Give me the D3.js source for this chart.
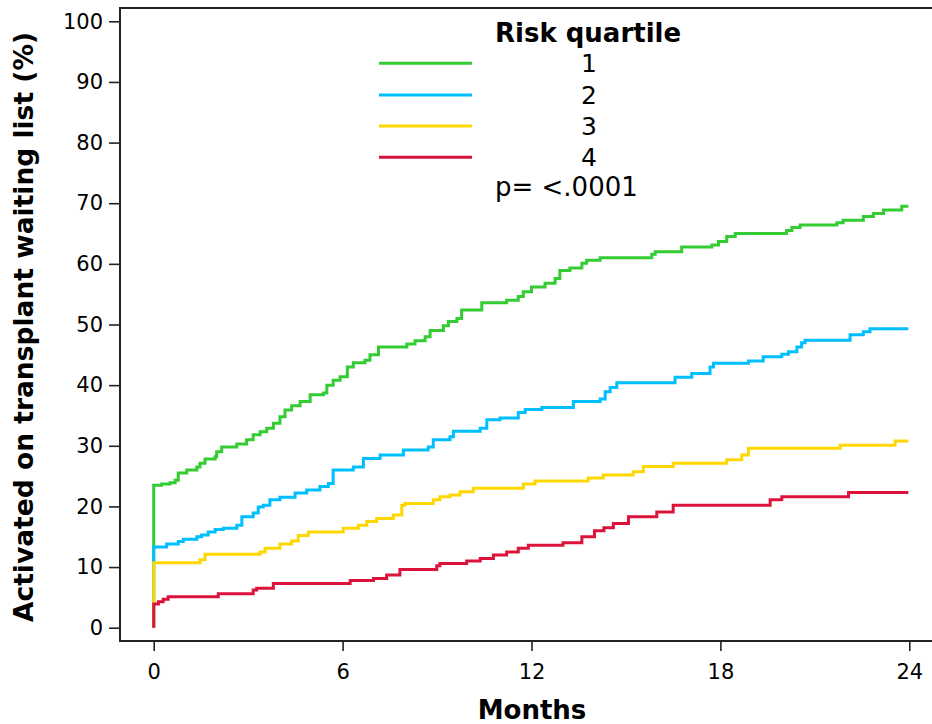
<!DOCTYPE html>
<meta charset="utf-8">
<script src="https://d3js.org/d3.v7.min.js"></script>
<style>
  body { margin: 0; background: #fff; }
  text { font-family: "DejaVu Sans", sans-serif; fill: #000; }
</style>
<div id="chart"></div>
<script>

// cumulative activation (%) by month
const q1Months = [0, 0, 0.25, 0.52, 0.68, 0.78, 1.05, 1.37, 1.47, 1.63, 1.95, 2.0, 2.16, 2.64, 2.95, 3.16, 3.38, 3.59, 3.8, 4.01, 4.17, 4.38, 4.65, 4.97, 5.39, 5.5, 5.7, 5.92, 6.15, 6.34, 6.71, 6.87, 7.14, 8.04, 8.30, 8.62, 8.78, 9.2, 9.36, 9.63, 9.78, 10.42, 11.21, 11.58, 11.74, 12.0, 12.43, 12.75, 12.9, 13.22, 13.6, 13.75, 14.18, 15.82, 15.93, 16.77, 17.73, 17.94, 18.2, 18.47, 20.1, 20.27, 20.53, 21.7, 21.9, 22.54, 22.86, 23.18, 23.76, 23.97];
const q1Pct    = [0, 23.5, 23.7, 23.9, 24.3, 25.5, 26.0, 26.5, 27.1, 27.8, 28.2, 29.0, 29.8, 30.3, 31.0, 31.8, 32.3, 32.9, 33.7, 34.8, 35.9, 36.6, 37.3, 38.4, 38.7, 40.0, 40.8, 41.4, 43.0, 43.7, 44.1, 45.0, 46.3, 46.8, 47.3, 48.0, 49.0, 49.8, 50.5, 51.0, 52.4, 53.6, 54.0, 54.6, 55.4, 56.2, 56.8, 57.6, 58.9, 59.3, 60.1, 60.6, 61.0, 61.6, 62.0, 62.8, 63.1, 63.7, 64.5, 65.0, 65.5, 66.0, 66.4, 66.8, 67.2, 67.8, 68.3, 68.9, 69.5, 69.5];

const q2Months = [0, 0, 0.41, 0.78, 0.94, 1.37, 1.52, 1.73, 1.95, 2.21, 2.64, 2.8, 3.16, 3.32, 3.48, 3.69, 4.01, 4.49, 4.86, 5.28, 5.55, 5.7, 6.34, 6.66, 7.19, 7.93, 8.72, 8.88, 9.41, 9.52, 10.37, 10.58, 11.0, 11.58, 11.8, 12.33, 13.33, 14.18, 14.34, 14.5, 14.71, 16.56, 17.09, 17.67, 17.78, 18.89, 19.36, 19.95, 20.16, 20.43, 20.58, 20.69, 22.12, 22.54, 22.75, 23.97];
const q2Pct    = [0, 13.3, 13.8, 14.2, 14.6, 15.0, 15.3, 15.8, 16.2, 16.4, 16.9, 18.3, 18.9, 19.9, 20.2, 21.1, 21.5, 22.2, 22.7, 23.3, 23.8, 26.0, 26.5, 27.9, 28.5, 29.3, 29.8, 31.0, 31.5, 32.4, 32.9, 34.3, 34.6, 35.5, 36.0, 36.3, 37.3, 37.7, 38.9, 39.6, 40.4, 41.3, 41.9, 43.0, 43.6, 44.0, 44.7, 45.1, 45.5, 46.3, 47.0, 47.4, 48.3, 48.8, 49.3, 49.3];

const q3Months = [0, 0, 1.47, 1.63, 3.38, 3.54, 4.01, 4.38, 4.59, 4.91, 6.02, 6.5, 6.77, 7.08, 7.61, 7.88, 7.98, 8.88, 9.09, 9.41, 9.73, 10.15, 11.74, 12.11, 13.8, 14.28, 15.23, 15.55, 16.5, 18.2, 18.68, 18.89, 21.8, 23.55, 23.97];
const q3Pct    = [0, 10.7, 11.2, 12.1, 12.5, 13.1, 13.8, 14.3, 15.2, 15.8, 16.4, 16.9, 17.5, 18.0, 18.6, 20.2, 20.5, 21.1, 21.6, 21.9, 22.4, 23.0, 23.7, 24.2, 24.7, 25.2, 25.7, 26.6, 27.1, 27.7, 28.5, 29.6, 30.1, 30.8, 30.8];

const q4Months = [0, 0, 0.15, 0.3, 0.46, 2.05, 3.16, 3.27, 3.8, 6.24, 6.98, 7.40, 7.82, 8.99, 9.09, 9.94, 10.37, 10.79, 11.21, 11.58, 11.9, 13.0, 13.6, 14.0, 14.3, 14.6, 15.08, 15.98, 16.5, 19.58, 19.95, 22.07, 23.97];
const q4Pct    = [0, 3.9, 4.3, 4.7, 5.1, 5.6, 6.2, 6.5, 7.3, 7.8, 8.1, 8.7, 9.6, 10.2, 10.6, 11.0, 11.4, 12.0, 12.5, 13.1, 13.6, 14.0, 15.0, 16.0, 16.5, 17.2, 18.3, 19.1, 20.2, 21.1, 21.6, 22.3, 22.3];

const quartiles = ["1", "2", "3", "4"];
const colors = ["#33cc33", "#00bfff", "#ffd700", "#dc143c"];
const xTicks = [0, 6, 12, 18, 24];
const yTicks = [0, 10, 20, 30, 40, 50, 60, 70, 80, 90, 100];

const series = [
  {months: q1Months, pct: q1Pct},
  {months: q2Months, pct: q2Pct},
  {months: q3Months, pct: q3Pct},
  {months: q4Months, pct: q4Pct}
];

const width = 932, height = 724;
const frame = {left: 120, top: 8, bottom: 641, right: 932};

const svg = d3.select("#chart")
  .append("svg")
    .attr("width", width)
    .attr("height", height);

const x = d3.scaleLinear().domain([0, 24]).range([153.7, 909.3]);
const y = d3.scaleLinear().domain([0, 100]).range([627.7, 21.3]);

// axes
const yAxis = svg.append("g")
  .attr("transform", `translate(${frame.left},0)`)
  .call(d3.axisLeft(y).tickValues(yTicks).tickSize(11).tickSizeOuter(0).tickPadding(6));
yAxis.select(".domain").remove();
yAxis.selectAll("text").style("font-size", "21px").attr("font-family", null);
yAxis.selectAll("line").attr("stroke", "#222").attr("stroke-width", 1.6);

const xAxis = svg.append("g")
  .attr("transform", `translate(0,${frame.bottom})`)
  .call(d3.axisBottom(x).tickValues(xTicks).tickSize(10).tickSizeOuter(0).tickPadding(13));
xAxis.select(".domain").remove();
xAxis.selectAll("text").style("font-size", "21px").attr("font-family", null);
xAxis.selectAll("line").attr("stroke", "#222").attr("stroke-width", 1.6);

// frame lines
svg.append("path")
  .attr("d", `M${frame.right},${frame.top}H${frame.left}V${frame.bottom}H${frame.right}`)
  .attr("fill", "none")
  .attr("stroke", "#222")
  .attr("stroke-width", 2);

// curves
const line = d3.line()
  .x(d => x(d[0]))
  .y(d => y(d[1]))
  .curve(d3.curveStepAfter);

series.forEach((s, i) => {
  svg.append("path")
    .datum(s.months.map((m, j) => [m, s.pct[j]]))
    .attr("fill", "none")
    .attr("stroke", colors[i])
    .attr("stroke-width", 3)
    .attr("d", line);
});

// axis titles
svg.append("text")
  .attr("transform", "translate(24,327) rotate(-90)")
  .attr("text-anchor", "middle")
  .attr("dy", "0.35em")
  .style("font-size", "26.5px")
  .style("font-weight", "bold")
  .text("Activated on transplant waiting list (%)");

svg.append("text")
  .attr("x", 532)
  .attr("y", 719)
  .attr("text-anchor", "middle")
  .style("font-size", "26px")
  .style("font-weight", "bold")
  .text("Months");

// legend
const legendY = [63.3, 95, 126, 157.3];
svg.append("text")
  .attr("x", 495)
  .attr("y", 33)
  .attr("dy", "0.35em")
  .style("font-size", "26px")
  .style("font-weight", "bold")
  .text("Risk quartile");

const leg = svg.selectAll(".leg")
  .data(quartiles)
  .join("g")
    .attr("class", "leg");
leg.append("line")
  .attr("x1", 379).attr("x2", 472)
  .attr("y1", (d, i) => legendY[i]).attr("y2", (d, i) => legendY[i])
  .attr("stroke", (d, i) => colors[i])
  .attr("stroke-width", 3);
leg.append("text")
  .attr("x", 589)
  .attr("y", (d, i) => legendY[i])
  .attr("dy", "0.35em")
  .attr("text-anchor", "middle")
  .style("font-size", "25px")
  .text(d => d);

svg.append("text")
  .attr("x", 495)
  .attr("y", 187)
  .attr("dy", "0.35em")
  .style("font-size", "26px")
  .text("p= <.0001");

</script>
